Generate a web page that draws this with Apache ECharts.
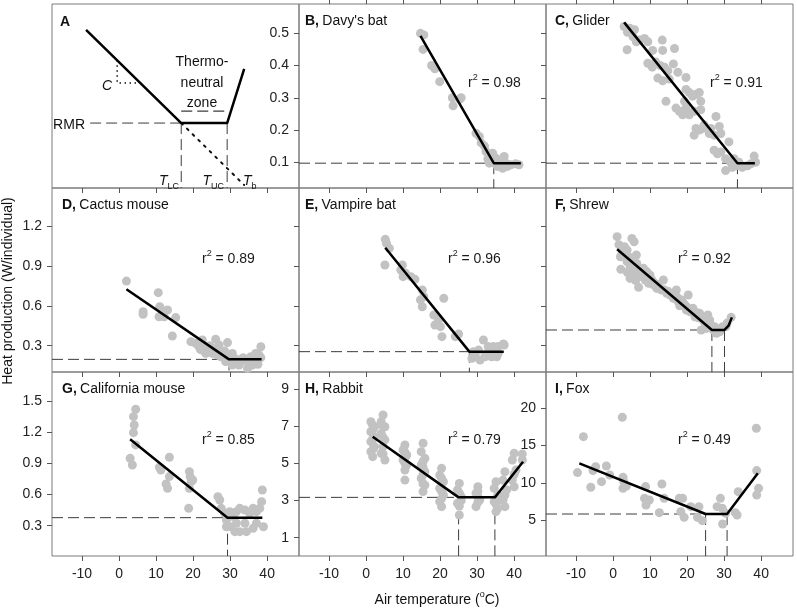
<!DOCTYPE html>
<html><head><meta charset="utf-8">
<script src="https://cdn.jsdelivr.net/npm/echarts@6/dist/echarts.min.js"></script>
<style>html,body{margin:0;padding:0;background:#fff}#c{width:797px;height:612px}</style>
</head><body><div id="c"></div>
<script>
// ---------- tick values ----------
const xTicks = [-10, 0, 10, 20, 30, 40];
const yTicksRow1 = [0.1, 0.2, 0.3, 0.4, 0.5];
const yTicksRow2 = [0.3, 0.6, 0.9, 1.2];
const yTicksG = [0.3, 0.6, 0.9, 1.2, 1.5];
const yTicksH = [1, 3, 5, 7, 9];
const yTicksI = [5, 10, 15, 20];

// ---------- panel A schematic ----------
const schemFit = [[-8.9, 0.859], [16.8, 0.353], [29.2, 0.353], [33.8, 0.647]];
const schemRmrStart = -7.8;
const schemZone = [[16.8, 0.418], [29.2, 0.418]];
const schemTb = [[16.8, 0.353], [33.8, 0.016]];
const schemC = [[-0.5, 0.694], [-0.5, 0.571], [5.0, 0.571]];

// ---------- panel data ----------
const ptsB = [[14.7,0.500],[15.6,0.495],[15.4,0.450],[17.7,0.400],[18.6,0.390],[19.9,0.350],[23.3,0.300],[25.7,0.300],[23.5,0.275],[25.3,0.295],[29.7,0.190],[30.6,0.180],[31.1,0.160],[32.0,0.150],[32.4,0.133],[34.2,0.128],[32.9,0.110],[33.8,0.107],[33.3,0.097],[35.1,0.112],[36.4,0.107],[37.3,0.118],[37.8,0.097],[36.9,0.081],[35.5,0.087],[39.1,0.092],[40.4,0.095],[41.3,0.092],[34.6,0.097],[36.0,0.094],[38.2,0.087]];
const fitB = [[14.7,0.492],[34.5,0.097],[41.8,0.097]];
const kneesB = [34.5];

const ptsC = [[3.0,0.521],[3.9,0.503],[4.5,0.516],[5.8,0.511],[5.4,0.489],[6.3,0.474],[3.8,0.449],[7.2,0.479],[8.5,0.484],[9.4,0.474],[10.7,0.447],[13.3,0.479],[13.4,0.447],[16.6,0.453],[9.4,0.407],[10.6,0.395],[11.5,0.411],[12.7,0.400],[13.9,0.395],[14.8,0.384],[12.1,0.361],[13.4,0.353],[15.2,0.358],[16.3,0.405],[17.5,0.379],[19.7,0.363],[14.3,0.289],[17.0,0.268],[17.9,0.258],[19.3,0.289],[19.7,0.326],[20.6,0.316],[21.5,0.305],[22.4,0.311],[23.3,0.316],[19.7,0.268],[18.8,0.247],[20.6,0.247],[21.9,0.258],[23.7,0.289],[23.7,0.263],[21.9,0.184],[22.4,0.205],[23.3,0.200],[24.2,0.205],[24.6,0.216],[26.4,0.205],[27.8,0.242],[28.7,0.211],[29.1,0.189],[27.3,0.184],[26.0,0.189],[27.3,0.137],[28.2,0.126],[29.1,0.132],[31.3,0.163],[30.4,0.111],[32.7,0.111],[31.8,0.100],[33.1,0.089],[30.4,0.074],[32.2,0.084],[34.9,0.084],[36.3,0.089],[37.2,0.095],[38.1,0.119],[38.5,0.100],[34.0,0.100]];
const fitC = [[3.0,0.534],[33.6,0.097],[38.3,0.097]];
const kneesC = [33.6];

const ptsD = [[2.0,0.786],[6.5,0.556],[6.5,0.536],[10.6,0.699],[11.0,0.593],[11.7,0.561],[13.1,0.568],[10.8,0.518],[12.2,0.518],[15.3,0.511],[14.4,0.373],[20.7,0.318],[22.5,0.343],[23.0,0.298],[24.3,0.255],[25.2,0.280],[26.1,0.348],[27.0,0.305],[27.9,0.242],[29.3,0.323],[30.6,0.242],[29.7,0.217],[31.1,0.180],[32.4,0.155],[34.2,0.192],[35.6,0.217],[36.9,0.242],[38.3,0.292],[37.4,0.180],[36.0,0.155],[34.7,0.130],[32.9,0.180],[30.6,0.155],[28.8,0.180],[27.5,0.217],[26.6,0.230],[25.2,0.242],[23.4,0.242],[21.6,0.292],[19.4,0.330],[38.3,0.210],[37.8,0.230],[33.5,0.210],[31.5,0.200],[28.5,0.260],[26.0,0.270],[24.5,0.300],[22.0,0.270],[37.5,0.160],[35.0,0.170]];
const fitD = [[2.0,0.724],[29.7,0.197],[38.5,0.197]];
const kneesD = [29.7];

const ptsE = [[5.2,1.100],[5.5,1.070],[6.3,1.032],[5.1,0.907],[9.8,0.907],[9.4,0.869],[10.0,0.819],[10.7,0.844],[12.1,0.819],[13.2,0.799],[15.2,0.719],[14.7,0.644],[15.2,0.593],[15.6,0.669],[21.0,0.656],[18.3,0.531],[19.6,0.493],[20.1,0.443],[18.6,0.455],[20.5,0.368],[24.1,0.368],[25.0,0.388],[31.7,0.343],[33.0,0.293],[34.4,0.293],[35.7,0.293],[37.1,0.313],[29.5,0.217],[30.8,0.192],[32.1,0.217],[33.9,0.217],[35.3,0.217],[33.0,0.255],[29.0,0.255],[28.6,0.205],[30.4,0.267],[35.7,0.243],[37.3,0.305]];
const fitE = [[5.2,1.037],[27.9,0.255],[37.2,0.255]];
const kneesE = [27.9];

const ptsF = [[1.1,1.120],[3.1,1.045],[5.1,1.107],[5.7,1.082],[6.3,0.982],[2.0,0.969],[2.1,0.874],[3.8,0.932],[4.6,0.882],[6.9,0.739],[4.6,0.806],[5.5,0.844],[7.3,0.869],[8.2,0.882],[9.1,0.857],[7.8,0.819],[8.7,0.794],[10.0,0.831],[10.5,0.794],[11.3,0.769],[9.6,0.769],[11.8,0.731],[13.6,0.794],[13.1,0.719],[14.5,0.694],[15.4,0.681],[17.1,0.719],[16.3,0.656],[17.6,0.631],[18.5,0.643],[19.4,0.606],[20.3,0.681],[19.8,0.568],[20.7,0.556],[21.6,0.581],[22.1,0.518],[23.4,0.543],[24.3,0.493],[25.6,0.531],[26.1,0.493],[26.5,0.455],[23.8,0.418],[25.2,0.430],[27.4,0.443],[27.9,0.393],[28.8,0.405],[29.6,0.443],[30.5,0.443],[31.9,0.513],[3.3,1.007],[4.2,0.969],[6.4,0.919],[2.5,1.000],[3.8,1.020],[4.8,0.950],[5.9,0.900],[6.8,0.870],[7.6,0.840],[9.0,0.820],[10.8,0.760],[12.0,0.760],[12.5,0.740],[13.8,0.720],[14.8,0.710],[15.9,0.690],[16.8,0.670],[17.5,0.660],[18.0,0.600],[19.0,0.620],[20.0,0.590],[21.0,0.560],[22.5,0.550],[23.0,0.510],[24.8,0.470],[25.8,0.460],[27.0,0.420],[28.2,0.420],[29.0,0.430],[30.8,0.470],[3.9,0.850],[6.1,0.790],[1.6,1.060]];
const fitF = [[1.1,1.025],[26.7,0.418],[30.1,0.418],[31.2,0.450],[32.1,0.513]];
const kneesF = [26.7, 30.1];

const ptsG = [[4.5,1.420],[3.9,1.349],[4.1,1.269],[3.9,1.195],[4.5,1.077],[3.0,0.948],[3.6,0.884],[10.9,0.862],[11.3,0.836],[13.6,0.958],[12.7,0.701],[13.1,0.659],[13.6,0.772],[19.0,0.820],[19.2,0.772],[19.5,0.724],[19.0,0.659],[19.9,0.740],[18.8,0.467],[26.7,0.579],[27.2,0.547],[27.6,0.467],[28.5,0.419],[29.9,0.435],[30.8,0.387],[31.7,0.435],[32.6,0.467],[34.0,0.451],[35.3,0.419],[36.2,0.467],[37.1,0.435],[38.0,0.467],[38.5,0.531],[38.7,0.643],[39.0,0.290],[37.1,0.323],[29.0,0.355],[30.3,0.290],[31.3,0.242],[32.6,0.242],[34.4,0.242],[36.2,0.274],[34.0,0.323],[29.0,0.290],[31.7,0.323]];
const fitG = [[3.0,1.131],[29.3,0.377],[38.7,0.377]];
const kneesG = [29.3];

const ptsH = [[1.3,7.24],[2.3,6.97],[1.3,6.70],[2.3,6.43],[1.3,6.17],[2.3,5.90],[1.3,5.63],[1.8,5.36],[1.8,6.80],[1.8,7.05],[4.6,7.60],[4.1,7.24],[5.1,6.97],[4.1,6.61],[5.1,6.26],[4.6,5.90],[4.1,5.54],[5.1,5.18],[4.6,6.40],[10.5,5.99],[10.0,5.72],[11.0,5.45],[10.0,5.18],[11.0,4.91],[10.5,4.64],[10.5,4.10],[10.5,5.30],[15.4,6.08],[14.9,5.63],[15.9,5.27],[14.9,4.91],[15.9,4.55],[14.9,4.19],[15.9,3.83],[15.4,3.48],[15.4,4.40],[15.4,5.10],[20.4,4.73],[19.9,4.37],[20.9,4.01],[19.9,3.66],[20.9,3.30],[19.9,2.94],[20.4,2.67],[20.4,3.50],[25.2,3.92],[24.7,3.57],[25.7,3.21],[24.7,2.85],[25.2,2.22],[25.7,3.00],[30.2,3.74],[29.7,3.39],[30.7,3.03],[29.7,2.67],[30.2,3.20],[35.1,4.01],[34.6,3.66],[35.6,3.30],[34.6,2.94],[35.6,2.58],[35.1,2.40],[37.5,4.55],[37.0,4.10],[38.0,3.57],[37.0,3.03],[37.5,2.67],[40.0,5.54],[39.5,5.18],[40.5,4.64],[39.5,4.10],[40.0,3.74],[42.2,5.50],[42.2,5.18],[1.8,6.30],[2.0,5.80],[4.6,7.00],[4.6,5.50],[10.5,5.00],[10.5,5.60],[15.4,4.80],[15.4,3.90],[20.4,3.10],[20.4,4.20],[25.2,3.40],[25.2,2.70],[30.2,2.90],[30.2,3.50],[35.1,3.10],[35.1,2.80],[37.5,3.30],[40.0,4.40]];
const fitH = [[1.8,6.43],[25.0,3.17],[34.8,3.17],[42.4,5.09]];
const kneesH = [25.0, 34.8];

const ptsI = [[-9.6,11.36],[-8.0,16.19],[-6.0,9.39],[-4.7,12.16],[-5.4,11.63],[-3.1,10.15],[-1.8,12.25],[-0.9,11.04],[2.5,18.79],[2.7,10.73],[2.9,10.15],[2.7,9.25],[3.6,9.57],[8.8,9.48],[8.5,7.91],[8.9,7.01],[9.8,7.68],[13.2,9.83],[13.8,7.91],[12.5,5.98],[17.9,7.91],[18.8,7.91],[18.3,6.12],[19.2,5.36],[21.0,6.79],[23.2,6.79],[22.8,5.36],[24.1,4.91],[29.0,7.91],[28.1,6.79],[29.5,6.57],[30.4,5.89],[29.6,4.46],[33.0,5.98],[33.5,5.67],[33.8,8.80],[38.7,17.31],[38.8,11.63],[39.3,9.25],[38.8,8.36]];
const fitI = [[-9.1,12.61],[25.0,5.80],[30.8,5.80],[39.1,11.27]];
const kneesI = [25.0, 30.8];

// ---------- labels ----------
const panelLetters = ['A','B','C','D','E','F','G','H','I'];
const panelNames = ['', "Davy's bat", 'Glider', 'Cactus mouse', 'Vampire bat', 'Shrew', 'California mouse', 'Rabbit', 'Fox'];
const r2Values = ['', '0.98', '0.91', '0.89', '0.96', '0.92', '0.85', '0.79', '0.49'];

// ---------- layout ----------
const FONT = '"Liberation Sans", Arial, Helvetica, sans-serif';
const FS = 14;
const COLS = [52, 299, 546], ROWS = [4, 188, 372], PW = 247, PH = 184;
const X_MIN = -18.1, X_MAX = 48.6;
const DOT = '#c2c2c2', DASH = '#3c3c3c', BORDER = '#7a7a7a', TICK = '#555';

const panels = [
  {col:0,row:0,yMin:0,yMax:1,yTicks:[],yLabels:false},
  {col:1,row:0,yMin:0.02,yMax:0.591,yTicks:yTicksRow1,yLabels:true,pts:ptsB,fit:fitB,knees:kneesB,r2:[468,83]},
  {col:2,row:0,yMin:0.02,yMax:0.591,yTicks:yTicksRow1,yLabels:false,pts:ptsC,fit:fitC,knees:kneesC,r2:[710,83]},
  {col:0,row:1,yMin:0.102,yMax:1.486,yTicks:yTicksRow2,yLabels:true,pts:ptsD,fit:fitD,knees:kneesD,r2:[202,259]},
  {col:1,row:1,yMin:0.102,yMax:1.486,yTicks:yTicksRow2,yLabels:false,pts:ptsE,fit:fitE,knees:kneesE,r2:[448,259]},
  {col:2,row:1,yMin:0.102,yMax:1.486,yTicks:yTicksRow2,yLabels:false,pts:ptsF,fit:fitF,knees:kneesF,r2:[678,259]},
  {col:0,row:2,yMin:0.008,yMax:1.779,yTicks:yTicksG,yLabels:true,pts:ptsG,fit:fitG,knees:kneesG,r2:[202,440]},
  {col:1,row:2,yMin:0.015,yMax:9.915,yTicks:yTicksH,yLabels:true,pts:ptsH,fit:fitH,knees:kneesH,r2:[448,440]},
  {col:2,row:2,yMin:0.165,yMax:24.87,yTicks:yTicksI,yLabels:true,pts:ptsI,fit:fitI,knees:kneesI,r2:[678,440]}
];

const grid = [], xAxis = [], yAxis = [], series = [], graphic = [];
const lbl = {fontFamily: FONT, fontSize: FS, color: '#222'};

function lineSeries(i, data, style, z) {
  series.push({type:'line', xAxisIndex:i, yAxisIndex:i, data:data, symbol:'none', silent:true,
    lineStyle:style, z:z || 2, animation:false});
}

panels.forEach((p, i) => {
  grid.push({left: COLS[p.col], top: ROWS[p.row], width: PW, height: PH, show: true,
    borderColor: BORDER, borderWidth: 1, backgroundColor: 'transparent'});
  xAxis.push({gridIndex:i, type:'value', min:X_MIN, max:X_MAX, position:'bottom',
    axisLine:{show:false, onZero:false}, splitLine:{show:false},
    axisTick:{show:true, inside:false, length:5, customValues:xTicks, lineStyle:{color:TICK}},
    axisLabel:Object.assign({show: p.row === 2, customValues:xTicks, margin:11}, lbl)});
  yAxis.push({gridIndex:i, type:'value', min:p.yMin, max:p.yMax, position:'left',
    axisLine:{show:false, onZero:false}, splitLine:{show:false},
    axisTick:{show: i !== 0, inside:false, length:5, customValues:p.yTicks, lineStyle:{color:TICK}},
    axisLabel:Object.assign({show: p.yLabels, customValues:p.yTicks, margin:10}, lbl)});
  if (p.pts) {
    const rmr = p.fit[1][1];
    lineSeries(i, [[X_MIN, rmr], [p.knees[0], rmr]], {color:DASH, width:1, type:[11,5]}, 1);
    p.knees.forEach(k => lineSeries(i, [[k, rmr], [k, p.yMin]], {color:DASH, width:1, type:[11,5]}, 1));
    series.push({type:'scatter', xAxisIndex:i, yAxisIndex:i, data:p.pts, symbolSize:9,
      itemStyle:{color:DOT, opacity:1}, silent:true, z:2, animation:false});
    lineSeries(i, p.fit, {color:'#000', width:2.5}, 3);
    graphic.push({type:'text', x:p.r2[0], y:p.r2[1], z:10, style:{
      text:'{r|r}{s|2}{r| = ' + r2Values[i] + '}', align:'left', verticalAlign:'middle', fill:'#1a1a1a',
      rich:{r:{fontFamily:FONT, fontSize:FS, lineHeight:20}, s:{fontFamily:FONT, fontSize:9, lineHeight:10, verticalAlign:'top'}}}});
  }
  const tx = COLS[p.col] + [10, 6, 9][p.col];
  const ty = ROWS[p.row] + 17;
  graphic.push({type:'text', x: i === 0 ? 60 : tx, y: i === 0 ? 22 : ty, z:10, style:{
    text: i === 0 ? '{b|A}' : '{b|' + panelLetters[i] + ',} {n|' + panelNames[i] + '}',
    align:'left', verticalAlign:'middle', fill:'#111',
    rich:{b:{fontFamily:FONT, fontSize:FS, fontWeight:'bold'}, n:{fontFamily:FONT, fontSize:FS}}}});
});

// top ticks for B and C
[1, 2].forEach(i => {
  xAxis.push({gridIndex:i, type:'value', min:X_MIN, max:X_MAX, position:'top',
    axisLine:{show:false, onZero:false}, splitLine:{show:false},
    axisTick:{show:true, inside:false, length:5, customValues:xTicks, lineStyle:{color:TICK}},
    axisLabel:{show:false, customValues:xTicks}});
});

// panel A schematic
lineSeries(0, [[schemRmrStart, schemFit[1][1]], [schemFit[1][0], schemFit[1][1]]], {color:DASH, width:1, type:[11,5]}, 1);
lineSeries(0, [[schemFit[1][0], schemFit[1][1]], [schemFit[1][0], 0]], {color:DASH, width:1, type:[11,5]}, 1);
lineSeries(0, [[schemFit[2][0], schemFit[2][1]], [schemFit[2][0], 0]], {color:DASH, width:1, type:[11,5]}, 1);
lineSeries(0, schemZone, {color:DASH, width:1.2, type:[11,5]}, 1);
lineSeries(0, schemTb, {color:'#111', width:2, type:[2,6], cap:'round'}, 1);
lineSeries(0, schemC, {color:'#111', width:1.5, type:[1.5,3.5]}, 1);
lineSeries(0, schemFit, {color:'#000', width:2.5}, 3);

const tRich = {t:{fontFamily:FONT, fontSize:FS, fontStyle:'italic', lineHeight:20}, u:{fontFamily:FONT, fontSize:9, lineHeight:10, verticalAlign:'bottom'}};
function addText(x, y, text, align, extra) {
  graphic.push({type:'text', x:x, y:y, z:10, style:Object.assign({text:text, align:align || 'center', verticalAlign:'middle',
    fill:'#111', fontFamily:FONT, fontSize:FS}, extra || {})});
}
addText(107, 86, 'C', 'center', {fontStyle:'italic'});
addText(85, 125, 'RMR', 'right');
addText(202, 62, 'Thermo-');
addText(202, 83, 'neutral');
addText(202, 103, 'zone');
addText(179, 181, '{t|T}{u|LC}', 'right', {rich:tRich});
addText(224, 181, '{t|T}{u|UC}', 'right', {rich:tRich});
addText(243, 181, '{t|T}{u|b}', 'left', {rich:tRich});

// axis titles
addText(437, 600, '{n|Air temperature (}{s|o}{n|C)}', 'center', {rich:{
  n:{fontFamily:FONT, fontSize:FS, lineHeight:20}, s:{fontFamily:FONT, fontSize:9, lineHeight:10, verticalAlign:'top'}}});
graphic.push({type:'text', x:8, y:291, rotation:Math.PI/2, z:10, style:{text:'Heat production (W/individual)',
  align:'center', verticalAlign:'middle', fill:'#111', fontFamily:FONT, fontSize:FS}});

const chart = echarts.init(document.getElementById('c'), null, {renderer:'canvas'});
chart.setOption({animation:false, backgroundColor:'#fff', grid, xAxis, yAxis, series, graphic});
</script></body></html>
